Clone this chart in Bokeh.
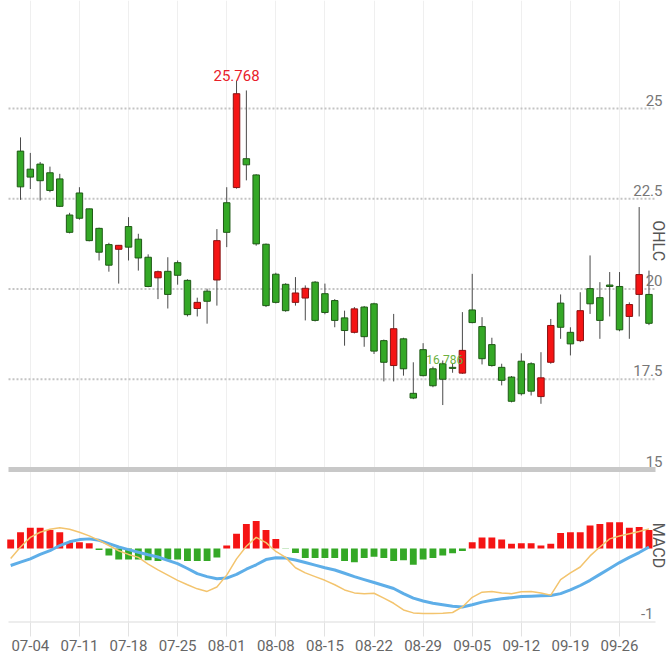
import numpy as np
import pandas as pd
from bokeh.plotting import figure
from bokeh.models import Range1d, FixedTicker, ColumnDataSource
from bokeh.core.properties import value
from bokeh.embed import file_html
from bokeh.resources import INLINE

# ---------------- data ----------------
dates = pd.bdate_range("2022-07-01", periods=65)
date_labels = [d.strftime("%m-%d") for d in dates]

opens = [23.82, 23.32, 23.46, 23.22, 23.05, 22.05, 22.66, 22.22, 21.68, 21.23,
         21.10, 21.73, 21.38, 20.88, 20.31, 20.49, 20.73, 20.24, 19.46, 19.94,
         20.25, 22.39, 22.81, 23.61, 23.16, 21.24, 20.41, 20.13, 19.63, 19.75,
         20.19, 19.87, 19.68, 19.20, 18.80, 19.50, 19.59, 18.57, 17.88, 18.62,
         17.11, 18.32, 17.79, 17.93, 17.83, 17.67, 19.42, 18.96, 18.46, 17.83,
         17.56, 18.00, 17.93, 17.02, 17.97, 19.61, 18.80, 18.57, 20.01, 19.76,
         20.11, 20.07, 19.24, 19.85, 19.85]
highs = [24.20, 23.77, 23.52, 23.39, 23.19, 22.11, 22.82, 22.23, 21.70, 21.28,
         21.22, 21.99, 21.53, 20.96, 20.51, 20.88, 20.79, 20.27, 19.76, 20.01,
         21.66, 22.82, 25.768, 25.50, 23.18, 21.26, 20.45, 20.16, 20.33, 20.10,
         20.22, 20.15, 19.72, 19.40, 19.50, 19.53, 19.62, 18.60, 19.31, 18.65,
         17.97, 18.50, 17.85, 18.02, 17.93, 19.36, 20.42, 19.22, 18.65, 17.93,
         17.59, 18.22, 17.97, 18.25, 19.17, 19.85, 18.94, 19.91, 20.93, 20.19,
         20.47, 20.47, 19.63, 22.27, 20.51]
lows = [22.47, 22.77, 22.45, 22.68, 22.27, 21.54, 21.92, 21.32, 20.79, 20.48,
        20.15, 20.79, 20.51, 20.05, 19.72, 19.46, 20.12, 19.24, 19.24, 19.04,
        19.54, 21.16, 22.78, 23.01, 21.20, 19.50, 19.60, 19.37, 19.54, 19.13,
        19.10, 19.30, 18.94, 18.43, 18.77, 18.40, 18.20, 17.44, 17.44, 17.60,
        16.95, 17.58, 17.28, 16.786, 17.68, 17.65, 19.05, 17.91, 17.85, 17.33,
        16.86, 17.05, 17.05, 16.82, 17.93, 18.62, 18.16, 18.53, 19.31, 18.62,
        19.24, 18.83, 18.62, 19.24, 19.00]
closes = [22.83, 23.10, 23.00, 22.73, 22.29, 21.57, 21.96, 21.34, 21.02, 20.66,
          21.21, 21.16, 20.86, 20.07, 20.48, 19.85, 20.38, 19.29, 19.63, 19.66,
          21.34, 21.57, 25.41, 23.44, 21.25, 19.54, 19.63, 19.40, 19.89, 20.02,
          19.13, 19.35, 19.13, 18.85, 19.45, 18.68, 18.28, 17.97, 18.90, 17.79,
          16.98, 17.60, 17.32, 17.50, 17.80, 18.30, 19.07, 18.07, 17.88, 17.47,
          16.89, 17.10, 17.17, 17.54, 18.99, 18.94, 18.48, 19.40, 19.59, 19.13,
          20.07, 18.87, 19.57, 20.40, 19.05]

# MACD series start one session earlier (06-30) than the candles
macd_hist = [0.12, 0.22, 0.28, 0.28, 0.25, 0.22, 0.085, 0.085, 0.07, -0.02,
             -0.095, -0.15, -0.15, -0.15, -0.16, -0.17, -0.15, -0.15, -0.17, -0.17,
             -0.17, -0.12, 0.04, 0.20, 0.33, 0.37, 0.25, 0.13, -0.005, -0.06,
             -0.13, -0.13, -0.13, -0.13, -0.17, -0.185, -0.13, -0.11, -0.13, -0.17,
             -0.16, -0.22, -0.15, -0.13, -0.095, -0.065, -0.035, 0.085, 0.15, 0.15,
             0.12, 0.065, 0.07, 0.07, 0.04, 0.065, 0.21, 0.22, 0.22, 0.31,
             0.33, 0.355, 0.355, 0.28, 0.29, 0.25]
macd_dif = [-0.135, 0.02, 0.15, 0.22, 0.26, 0.28, 0.26, 0.22, 0.17, 0.11,
            0.04, -0.03, -0.08, -0.12, -0.21, -0.29, -0.36, -0.43, -0.49, -0.545,
            -0.58, -0.52, -0.36, -0.14, 0.03, 0.15, 0.08, -0.04, -0.12, -0.26,
            -0.33, -0.38, -0.43, -0.49, -0.56, -0.60, -0.61, -0.605, -0.67, -0.74,
            -0.83, -0.87, -0.88, -0.88, -0.875, -0.865, -0.79, -0.66, -0.59, -0.58,
            -0.60, -0.61, -0.585, -0.58, -0.60, -0.63, -0.42, -0.33, -0.25, -0.10,
            0.02, 0.13, 0.17, 0.20, 0.23, 0.265]
macd_dea = [-0.23, -0.185, -0.14, -0.08, -0.03, 0.04, 0.09, 0.12, 0.13, 0.11,
            0.065, 0.02, -0.015, -0.05, -0.085, -0.115, -0.16, -0.205, -0.27, -0.34,
            -0.38, -0.41, -0.40, -0.35, -0.28, -0.22, -0.15, -0.126, -0.13, -0.155,
            -0.19, -0.225, -0.26, -0.29, -0.335, -0.38, -0.42, -0.46, -0.50, -0.54,
            -0.61, -0.67, -0.71, -0.74, -0.76, -0.78, -0.79, -0.76, -0.725, -0.70,
            -0.68, -0.665, -0.65, -0.645, -0.64, -0.635, -0.61, -0.56, -0.50, -0.43,
            -0.35, -0.27, -0.19, -0.12, -0.055, 0.02]

price_ticks = [15, 17.5, 20, 22.5, 25]
price_tick_labels = ["15", "17.5", "20", "22.5", "25"]
macd_ticks = [-1]
macd_tick_labels = ["-1"]
price_title = "OHLC"
macd_title = "MACD"

# ---------------- styling ----------------
FONT = "Roboto"
RED = "#f51414"
RED_EDGE = "#8a1212"
GREEN = "#34a826"
GREEN_EDGE = "#1f5a16"
PX = 9.82  # pixels per session

o = np.array(opens); h = np.array(highs); lo = np.array(lows); c = np.array(closes)
n = len(o)
xi = np.arange(n)
up = c >= o

p = figure(frame_width=667, frame_height=622,
           x_range=Range1d(-2.037, 65.886), y_range=Range1d(10.762, 27.992),
           output_backend="svg", toolbar_location=None, y_axis_location=None,
           min_border=0, outline_line_color=None,
           background_fill_color="white", border_fill_color="white")
p.extra_y_ranges = {"macd": Range1d(-1.0, 7.405)}

x_start = p.x_range.start
x_end = p.x_range.end
grid_start = x_start + 8 / PX
grid_end = x_end - 12 / PX

# vertical grid at Mondays
mondays = [int(i) for i in xi if dates[i].weekday() == 0]
p.xgrid.ticker = FixedTicker(ticks=mondays)
p.xgrid.grid_line_color = "#efefef"
p.ygrid.grid_line_color = None

# horizontal dotted gridlines for price
gl = price_ticks[1:]
p.segment(x0=[grid_start] * len(gl), x1=[grid_end] * len(gl), y0=gl, y1=gl,
          line_color="#c4c4c4", line_width=2, line_dash="2 2")
# thick separator bar at bottom price tick
p.segment(x0=[grid_start], x1=[grid_end], y0=price_ticks[:1], y1=price_ticks[:1],
          line_color="#c8c8c8", line_width=5)
# MACD bottom axis line
p.segment(x0=[grid_start], x1=[grid_end], y0=macd_ticks, y1=macd_ticks,
          line_color="#dcdcdc", line_width=2, y_range_name="macd")

# candles
p.segment(x0=xi, x1=xi, y0=lo, y1=h, line_color="#4a4a4a", line_width=1)
su = ColumnDataSource(dict(x=xi[up], top=c[up], bottom=o[up]))
sd = ColumnDataSource(dict(x=xi[~up], top=o[~up], bottom=c[~up]))
p.vbar(x="x", top="top", bottom="bottom", width=0.66, source=su,
       fill_color=RED, line_color=RED_EDGE, line_width=1)
p.vbar(x="x", top="top", bottom="bottom", width=0.66, source=sd,
       fill_color=GREEN, line_color=GREEN_EDGE, line_width=1)

# MACD
mx = np.arange(-1, n)
mh = np.array(macd_hist)
hcol = [RED if v >= 0 else GREEN for v in mh]
p.vbar(x=mx, top=mh, bottom=0, width=0.7, fill_color=hcol, line_color=None,
       y_range_name="macd")
p.line(mx, macd_dea, line_color="#5eaee8", line_width=3, y_range_name="macd")
p.line(mx, macd_dif, line_color="#f3c46e", line_width=1.5, y_range_name="macd")

# max / min labels
imax = int(np.argmax(h)); imin = int(np.argmin(lo))
p.text(x=[imax], y=[h[imax]], text=[f"{h[imax]:.3f}"], text_align="center",
       text_baseline="bottom", y_offset=0, text_color="#e8202a",
       text_font=value(FONT), text_font_size="15px")
p.text(x=[imin], y=[lo[imin]], text=[f"{lo[imin]:.3f}"], text_align="center",
       text_baseline="bottom", x_offset=2, y_offset=-41, text_color="#6cb040",
       text_font=value(FONT), text_font_size="12px")

# right-side value labels
lab_x = x_end - 5 / PX
p.text(x=[lab_x] * len(price_ticks), y=price_ticks, text=price_tick_labels,
       text_align="right", text_baseline="bottom", y_offset=-3,
       text_color="#777777", text_font=value(FONT), text_font_size="15px")
p.text(x=[x_end - 14 / PX] * len(macd_ticks), y=macd_ticks, text=macd_tick_labels,
       text_align="right", text_baseline="bottom", y_offset=-4,
       text_color="#777777", text_font=value(FONT), text_font_size="15px",
       y_range_name="macd")

# rotated panel titles on the right edge
title_x = x_end - 9 / PX
p.text(x=[title_x], y=[21.34], text=[price_title], angle=-np.pi / 2,
       text_align="center", text_baseline="middle", text_color="#555555",
       text_font=value(FONT), text_font_size="16px")
p.text(x=[title_x], y=[0.04], text=[macd_title], angle=-np.pi / 2,
       text_align="center", text_baseline="middle", text_color="#555555",
       text_font=value(FONT), text_font_size="16px", y_range_name="macd")

# x axis
ax = p.xaxis[0]
ax.ticker = FixedTicker(ticks=mondays)
ax.major_label_overrides = {m: date_labels[m] for m in mondays}
ax.axis_line_color = None
ax.major_tick_out = 14
ax.major_tick_in = 0
ax.major_tick_line_color = "#e2e2e2"
ax.minor_tick_line_color = None
ax.major_label_standoff = 3
ax.major_label_text_font = FONT
ax.major_label_text_font_size = "15px"
ax.major_label_text_color = "#666666"

open("out.html", "w").write(file_html(p, INLINE))
